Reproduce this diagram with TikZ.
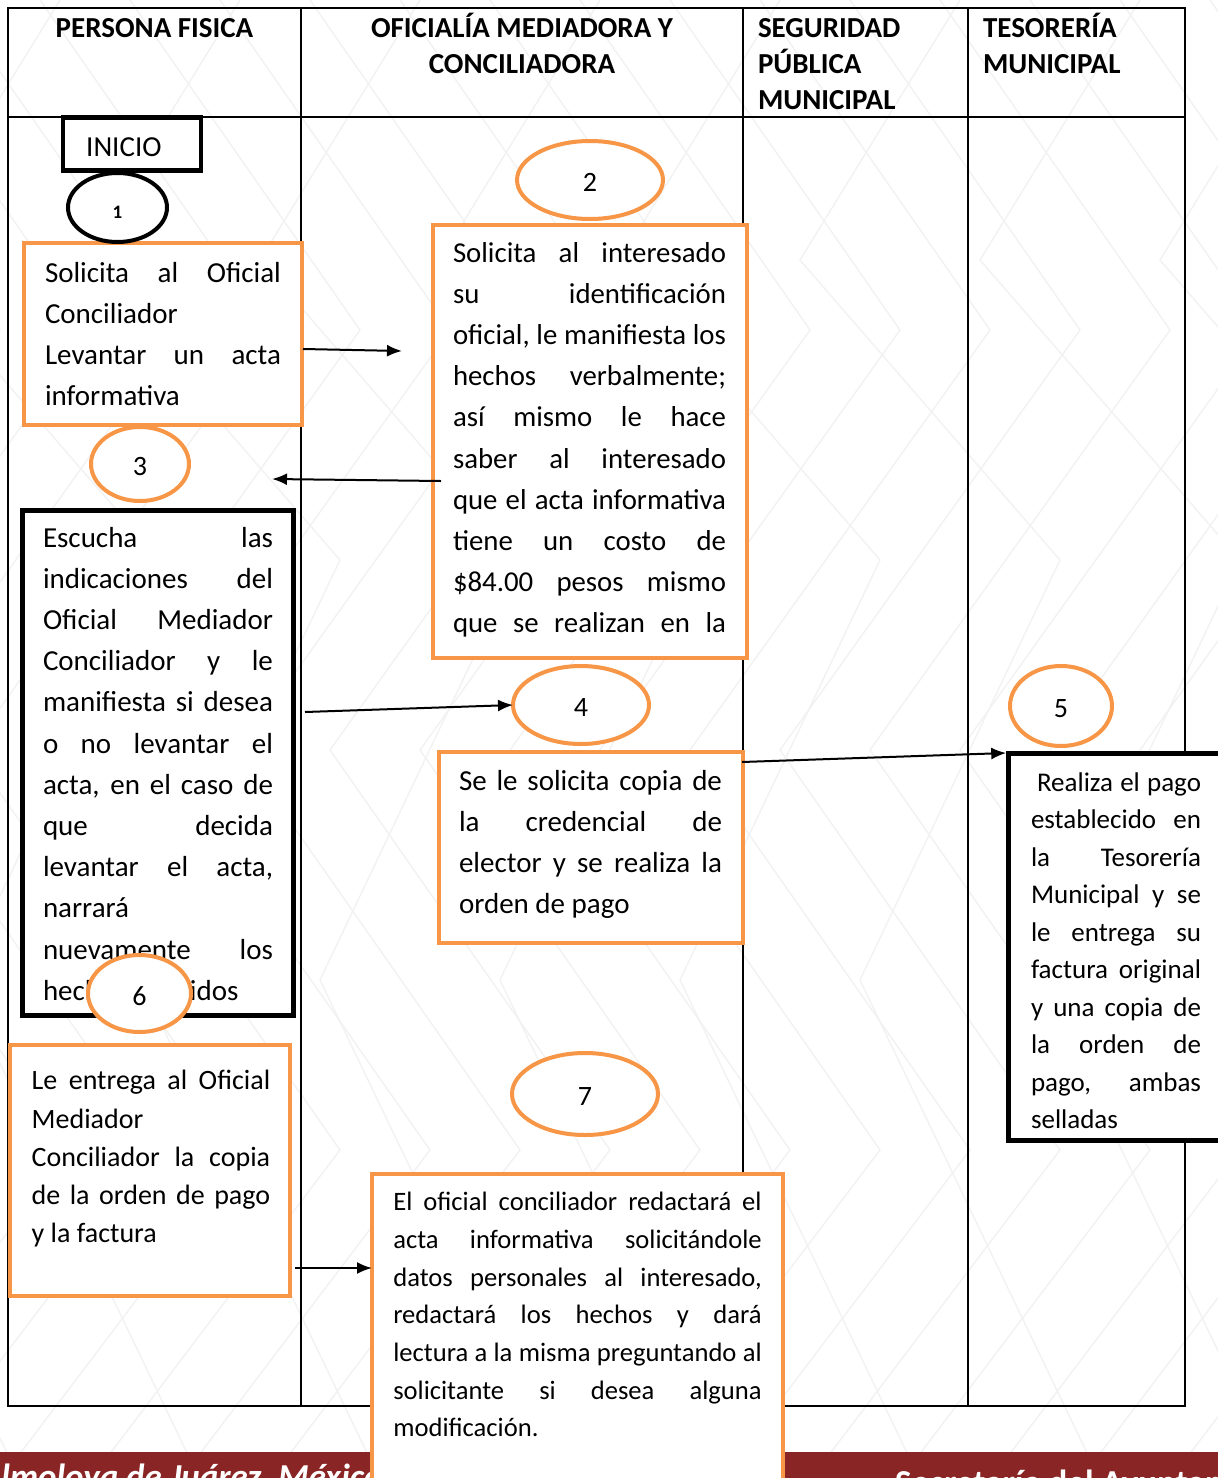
\documentclass[tikz,border=0pt]{standalone}
\usepackage{fontspec}
\setmainfont{Carlito}
\usetikzlibrary{shapes.geometric,arrows.meta,calc}
\definecolor{boxorange}{RGB}{247,150,70}
\definecolor{bandred}{RGB}{137,37,37}
% one line of a paragraph: justified, flush left, centred
\newcommand\jline[1]{\hbox to\hsize{\strut#1}}
\newcommand\lline[1]{\hbox to\hsize{\strut#1\hfil}}
\newcommand\mline[1]{\hbox to\hsize{\hfil\strut#1\hfil}}
\newcommand\para[2]{\vbox{\hsize=#1\relax #2}}
\begin{document}
\begin{tikzpicture}[x=1pt,y=-1pt,
  obox/.style={rectangle, draw=boxorange, line width=4pt, fill=white, inner sep=0pt, outer sep=0pt},
  kbox/.style={rectangle, draw=black, line width=5pt, fill=white, inner sep=0pt, outer sep=0pt},
  oval/.style={ellipse, draw=boxorange, line width=4pt, fill=white, inner sep=0pt, outer sep=0pt,
               font=\fontsize{28}{28}\selectfont, text height=23pt, text depth=0pt},
  txt/.style={anchor=north west, inner sep=0pt, outer sep=0pt},
  arr/.style={line width=2pt, -{Latex[length=15pt,width=12pt]}},
  grid/.style={line width=2pt},
  pat/.style={draw=black!5, line width=1.4pt, line join=round},
  head/.style={txt, font=\fontsize{29}{36}\selectfont\bfseries}
]
\useasboundingbox (0,0) rectangle (1218,1478);
\clip (0,0) rectangle (1218,1478);
\fill[white] (0,0) rectangle (1218,1478);

% faint watermark lines
\foreach \i in {-500,-410,...,1500}
  \draw[pat] (\i,0) -- ++(230,330) -- ++(-300,420) -- ++(280,400) -- ++(-250,330);
\foreach \i in {-300,-120,...,1500}
  \draw[pat] (\i,0) -- ++(-160,260) -- ++(260,300) -- ++(-200,420) -- ++(240,500);

% footer band
\fill[bandred] (0,1452) rectangle (1218,1478);
\node[anchor=base west, inner sep=0pt, text=white, font=\fontsize{35}{35}\selectfont\bfseries\itshape] (footl) at (-20,1488) {Almoloya de Juárez, México};
\node[anchor=base west, inner sep=0pt, text=white, font=\fontsize{35}{35}\selectfont\bfseries] (footr) at (895,1494) {Secretaría del Ayuntamiento};

% swimlane table
\draw[grid] (8,8) rectangle (1185,1406);
\draw[grid] (8,117) -- (1185,117);
\foreach \x in {301,743,968} \draw[grid] (\x,8) -- (\x,1406);

% lane headings
\node[head] (h1) at (8,11.8) {\para{293pt}{\mline{PERSONA FISICA}}};
\node[head] (h2) at (301,11.8) {\para{442pt}{\mline{OFICIALÍA MEDIADORA Y}\mline{CONCILIADORA}}};
\node[head] (h3) at (758,11.8) {\para{200pt}{\lline{SEGURIDAD}\lline{PÚBLICA}\lline{MUNICIPAL}}};
\node[head] (h4) at (983,11.8) {\para{195pt}{\lline{TESORERÍA}\lline{MUNICIPAL}}};

% process boxes
\node[kbox, line width=4.5pt, minimum width=138pt, minimum height=53pt] (inicio) at (132,144) {};
\node[anchor=base west, inner sep=0pt, font=\fontsize{29}{29}\selectfont] (iniciot) at (86,156.7) {INICIO};
\node[obox, minimum width=278pt, minimum height=182pt] (b1) at (163,334) {};
\node[obox, minimum width=314pt, minimum height=433pt] (b2) at (590,441.5) {};
\node[kbox, minimum width=271pt, minimum height=505pt] (b3) at (158,763) {};
\node[obox, minimum width=304pt, minimum height=191pt] (b4) at (591,847.5) {};
\node[kbox, minimum width=221.5pt, minimum height=387pt] (b5) at (1119,946.5) {};
\node[obox, minimum width=280pt, minimum height=251pt] (b6) at (150,1170.5) {};
\node[obox, minimum width=411pt, minimum height=326pt] (b7) at (577.5,1337) {};

% box texts
\node[txt, font=\fontsize{29}{41.2}\selectfont] (b1t) at (45,253.2) {\para{236pt}{%
  \jline{Solicita al Oficial}\lline{Conciliador}\jline{Levantar un acta}\lline{informativa}}};
\node[txt, font=\fontsize{28.8}{41.2}\selectfont] (b2t) at (453,233.2) {\para{273pt}{%
  \jline{Solicita al interesado}\jline{su identificación}\jline{oficial, le manifiesta los}%
  \jline{hechos verbalmente;}\jline{así mismo le hace}\jline{saber al interesado}%
  \jline{que el acta informativa}\jline{tiene un costo de}\jline{\$84.00 pesos mismo}%
  \jline{que se realizan en la}}};
\node[txt, font=\fontsize{29}{41.2}\selectfont] (b3t) at (43,518.2) {\para{230pt}{%
  \jline{Escucha las}\jline{indicaciones del}\jline{Oficial Mediador}\jline{Conciliador y le}%
  \jline{manifiesta si desea}\jline{o no levantar el}\jline{acta, en el caso de}\jline{que decida}%
  \jline{levantar el acta,}\lline{narrará}\jline{nuevamente los}\lline{hechos referidos}}};
\node[txt, font=\fontsize{29}{41.2}\selectfont] (b4t) at (459,761.2) {\para{263pt}{%
  \jline{Se le solicita copia de}\jline{la credencial de}\jline{elector y se realiza la}\lline{orden de pago}}};
\node[txt, font=\fontsize{27}{37.5}\selectfont] (b5t) at (1031,764.8) {\para{170pt}{%
  \jline{\hspace{6pt}Realiza el pago}\jline{establecido en}\jline{la Tesorería}\jline{Municipal y se}%
  \jline{le entrega su}\jline{factura original}\jline{y una copia de}\jline{la orden de}%
  \jline{pago, ambas}\lline{selladas}}};
\node[txt, font=\fontsize{28}{38.25}\selectfont] (b6t) at (31.7,1063.2) {\para{238.5pt}{%
  \jline{Le entrega al Oficial}\lline{Mediador}\jline{Conciliador la copia}%
  \jline{de la orden de pago}\lline{y la factura}}};
\node[txt, font=\fontsize{26.6}{37.67}\selectfont] (b7t) at (393.3,1184.3) {\para{368.4pt}{%
  \jline{El oficial conciliador redactará el}\jline{acta informativa solicitándole}%
  \jline{datos personales al interesado,}\jline{redactará los hechos y dará}%
  \jline{lectura a la misma preguntando al}\jline{solicitante si desea alguna}\lline{modificación.}}};

% step numbers
\node[oval, draw=black, minimum width=99pt, minimum height=69pt, font=\fontsize{19}{19}\selectfont\bfseries, text height=21pt] (e1) at (117.5,207.5) {1};
\node[oval, minimum width=146pt, minimum height=78pt] (e2) at (590,180) {2};
\node[oval, minimum width=98pt, minimum height=74pt] (e3) at (140,464) {3};
\node[oval, minimum width=136pt, minimum height=78pt] (e4) at (581,705) {4};
\node[oval, minimum width=102pt, minimum height=80pt] (e5) at (1061,706) {5};
\node[oval, minimum width=103pt, minimum height=77pt] (e6) at (139.5,993.5) {6};
\node[oval, minimum width=146pt, minimum height=82pt] (e7) at (585,1094) {7};

% connectors
\coordinate (c1) at (402,351);
\coordinate (c2) at (272,479);
\draw[arr] ($(b1.east)+(1,15)$) -- (c1);
\draw[arr] ($(b2.west)+(8,39.5)$) -- (c2);
\draw[arr] ($(b3.east)+(11.5,-51)$) -- (e4.west);
\draw[arr] ($(b4.east)+(-1,-85.5)$) -- ($(b5.north west)+(-2,0)$);
\coordinate (a5s) at ($(b6.east)+(5,97.5)$);
\draw[arr] (a5s) -- (a5s -| b7.west);
\end{tikzpicture}
\end{document}
